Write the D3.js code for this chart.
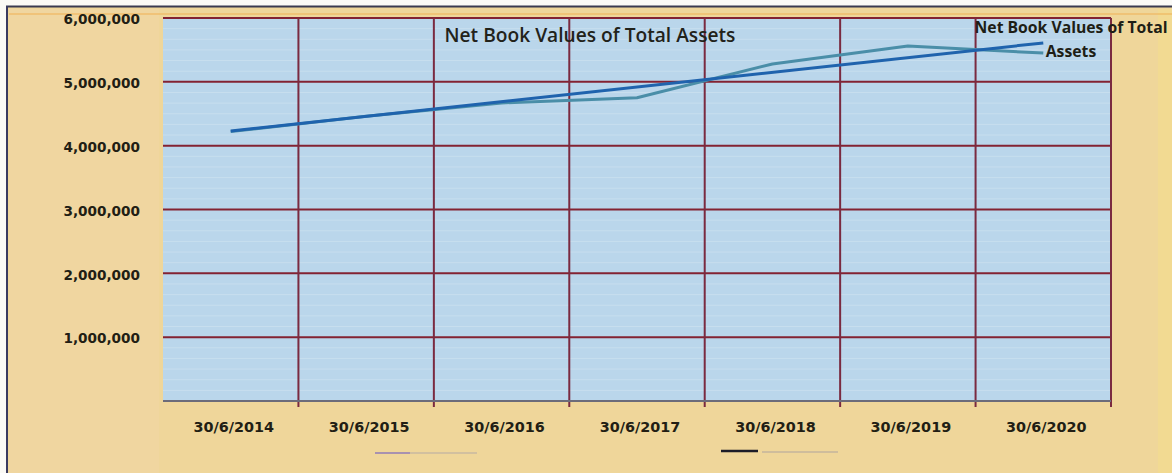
<!DOCTYPE html>
<html>
<head>
<meta charset="utf-8">
<script src="https://cdn.jsdelivr.net/npm/d3@7"></script>
<style>
  html, body { margin: 0; padding: 0; background: #ffffff; }
  svg { display: block; }
</style>
</head>
<body>
<svg id="chart" width="1172" height="473"></svg>
<script>
// ---- data ----
const categories = ["30/6/2014", "30/6/2015", "30/6/2016", "30/6/2017", "30/6/2018", "30/6/2019", "30/6/2020"];
const netBookValues = [4220000, 4460000, 4670000, 4750000, 5280000, 5560000, 5450000];
// linear trendline end points (as drawn)
const trendCategories = ["30/6/2014", "30/6/2020"];
const trendValues = [4230000, 5610000];
const yTicks = [1000000, 2000000, 3000000, 4000000, 5000000, 6000000];
const titleText = "Net Book Values of Total Assets";
const seriesLabelLines = ["Net Book Values of Total", "Assets"];

// ---- layout ----
const W = 1172, H = 473;
const plot = { left: 163, right: 1111, top: 18, bottom: 401 };

const svg = d3.select("#chart");

// outer scanned page background
svg.append("rect").attr("x", 0).attr("y", 0).attr("width", W).attr("height", H).attr("fill", "#fbfaf6");
svg.append("rect").attr("x", 7).attr("y", 7).attr("width", W - 7).attr("height", H - 7).attr("fill", "#efd69a");
svg.append("rect").attr("x", 9).attr("y", 9).attr("width", 150).attr("height", H - 9).attr("fill", "#f1d6a6").attr("opacity", 0.5);
svg.append("rect").attr("x", 1158).attr("y", 9).attr("width", 14).attr("height", H - 9).attr("fill", "#f3dc8e").attr("opacity", 0.6);
svg.append("line").attr("x1", 6).attr("x2", W).attr("y1", 6.5).attr("y2", 6.5).attr("stroke", "#3a3a50").attr("stroke-width", 2);
svg.append("line").attr("x1", 7).attr("x2", 7).attr("y1", 6).attr("y2", H).attr("stroke", "#3a3a60").attr("stroke-width", 2);
svg.append("line").attr("x1", 9).attr("x2", W).attr("y1", 14).attr("y2", 14).attr("stroke", "#f0b860").attr("stroke-width", 2).attr("opacity", 0.6);

// scales
const x = d3.scaleBand().domain(categories).range([plot.left, plot.right]).padding(0);
const y = d3.scaleLinear().domain([0, 6000000]).range([plot.bottom, plot.top]);
const cx = d => x(d) + x.bandwidth() / 2;

// plot area
svg.append("rect")
  .attr("x", plot.left).attr("y", plot.top)
  .attr("width", plot.right - plot.left).attr("height", plot.bottom - plot.top)
  .attr("fill", "#bad6eb");

// faint minor lines (scan texture of minor gridlines)
const minor = d3.range(0, 6000000, 1000000 / 6).filter(v => v % 1000000 !== 0);
svg.append("g").selectAll("line").data(minor).join("line")
  .attr("x1", plot.left).attr("x2", plot.right)
  .attr("y1", d => y(d)).attr("y2", d => y(d))
  .attr("stroke", "#d3e6f2").attr("stroke-width", 1).attr("opacity", 0.55);

// major horizontal gridlines
svg.append("g").selectAll("line").data(yTicks).join("line")
  .attr("x1", plot.left).attr("x2", plot.right)
  .attr("y1", d => y(d)).attr("y2", d => y(d))
  .attr("stroke", "#832232").attr("stroke-width", 2);

// vertical gridlines at category boundaries
const boundaries = categories.slice(1).map(c => x(c)).concat([plot.right]);
svg.append("g").selectAll("line").data(boundaries).join("line")
  .attr("x1", d => d).attr("x2", d => d)
  .attr("y1", plot.top).attr("y2", plot.bottom + 6)
  .attr("stroke", "#7a2a40").attr("stroke-width", 2);

// bottom axis line
svg.append("line").attr("x1", plot.left).attr("x2", plot.right)
  .attr("y1", plot.bottom).attr("y2", plot.bottom)
  .attr("stroke", "#6c6c7a").attr("stroke-width", 2);

// y axis labels
const yAxis = d3.axisLeft(y).tickValues(yTicks).tickSize(0).tickPadding(0)
  .tickFormat(d3.format(","));
const gy = svg.append("g").attr("transform", `translate(${140},0)`).call(yAxis);
gy.select(".domain").remove();
gy.selectAll("text")
  .attr("font-family", "DejaVu Sans").attr("font-weight", "bold").attr("font-size", "13.6px")
  .attr("fill", "#221e14").attr("dy", "0.42em");

// x axis labels
const xAxis = d3.axisBottom(x).tickSize(0).tickPadding(0);
const gx = svg.append("g").attr("transform", `translate(3,${plot.bottom})`).call(xAxis);
gx.select(".domain").remove();
gx.selectAll("text")
  .attr("font-family", "DejaVu Sans").attr("font-weight", "bold").attr("font-size", "14.4px")
  .attr("fill", "#221e14").attr("dy", "0").attr("y", 31);

// data line
const line = d3.line().x(d => cx(d[0])).y(d => y(d[1]));
svg.append("path")
  .datum(categories.map((c, i) => [c, netBookValues[i]]))
  .attr("d", line).attr("fill", "none")
  .attr("stroke", "#4a8ea8").attr("stroke-width", 3).attr("stroke-linejoin", "round");

// trend line
svg.append("path")
  .datum(trendCategories.map((c, i) => [c, trendValues[i]]))
  .attr("d", line).attr("fill", "none")
  .attr("stroke", "#1f63ad").attr("stroke-width", 3);

// helper: fit text to a width
function fitText(sel, width) {
  const len = sel.node().getComputedTextLength();
  const fs = parseFloat(sel.attr("font-size"));
  sel.attr("font-size", (fs * width / len).toFixed(2) + "px");
}

// title
const title = svg.append("text").text(titleText)
  .attr("x", 590).attr("y", 42).attr("text-anchor", "middle")
  .attr("font-family", "Open Sans").attr("font-weight", 600).attr("font-size", "17px")
  .attr("fill", "#22221a");
fitText(title, 291);

// series label (top right)
const sl1 = svg.append("text").text(seriesLabelLines[0])
  .attr("x", 1071).attr("y", 33).attr("text-anchor", "middle")
  .attr("font-family", "Open Sans").attr("font-weight", 700).attr("font-size", "13px")
  .attr("fill", "#1e1e16");
fitText(sl1, 193);
svg.append("text").text(seriesLabelLines[1])
  .attr("x", 1071).attr("y", 57).attr("text-anchor", "middle")
  .attr("font-family", "Open Sans").attr("font-weight", 700).attr("font-size", sl1.attr("font-size"))
  .attr("fill", "#1e1e16");

// legend samples (text faded out in the scan)
const lg = svg.append("g");
lg.append("line").attr("x1", 375).attr("x2", 410).attr("y1", 453).attr("y2", 453)
  .attr("stroke", "#a892b0").attr("stroke-width", 2);
lg.append("line").attr("x1", 410).attr("x2", 477).attr("y1", 453).attr("y2", 453)
  .attr("stroke", "#c8b8a0").attr("stroke-width", 1.5);
lg.append("line").attr("x1", 721).attr("x2", 758).attr("y1", 451).attr("y2", 451)
  .attr("stroke", "#1c1c28").attr("stroke-width", 2.5);
lg.append("line").attr("x1", 762).attr("x2", 838).attr("y1", 452).attr("y2", 452)
  .attr("stroke", "#c4b49c").attr("stroke-width", 1.5);
</script>
</body>
</html>
